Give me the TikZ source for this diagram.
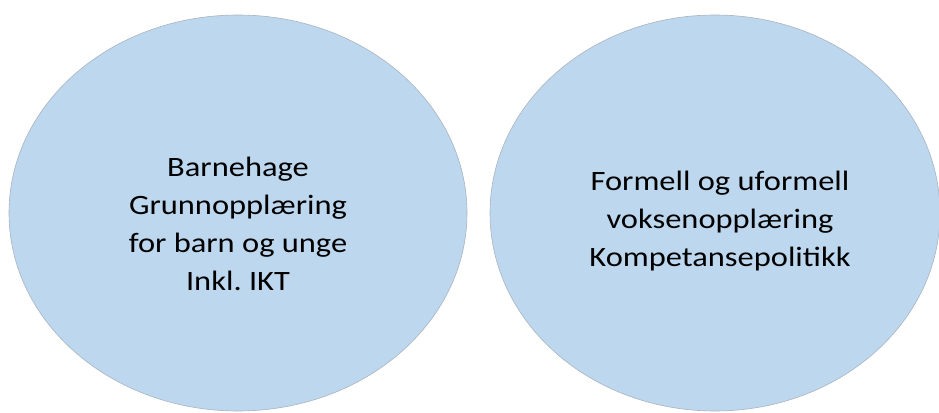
\documentclass[tikz,border=0pt]{standalone}
\usepackage{fontspec}
\setmainfont[FakeStretch=1.16]{Carlito}
\frenchspacing
\definecolor{bubblefill}{HTML}{BDD7EE}
\definecolor{bubbleedge}{HTML}{A9B4BE}
\begin{document}
\begin{tikzpicture}[x=1pt,y=-1pt,
  bubble/.style={fill=bubblefill,draw=bubbleedge,line width=0.6pt},
  bubbletext/.style={align=center,inner sep=0pt,text=black,
    font=\fontsize{28}{38}\selectfont}]
  % canvas
  \useasboundingbox (0,0) rectangle (939,412);
  % two areas
  \draw[bubble] (238,213) ellipse [x radius=229, y radius=198];
  \draw[bubble] (715,213) ellipse [x radius=225, y radius=198];
  % labels
  \node[bubbletext] (left) at (238,224)
    {Barnehage\\Grunnopplæring\\for barn og unge\\Inkl. IKT};
  \node[bubbletext] (right) at (720,221)
    {Formell og uformell\\voksenopplæring\\Kompetansepolitikk};
\end{tikzpicture}
\end{document}
